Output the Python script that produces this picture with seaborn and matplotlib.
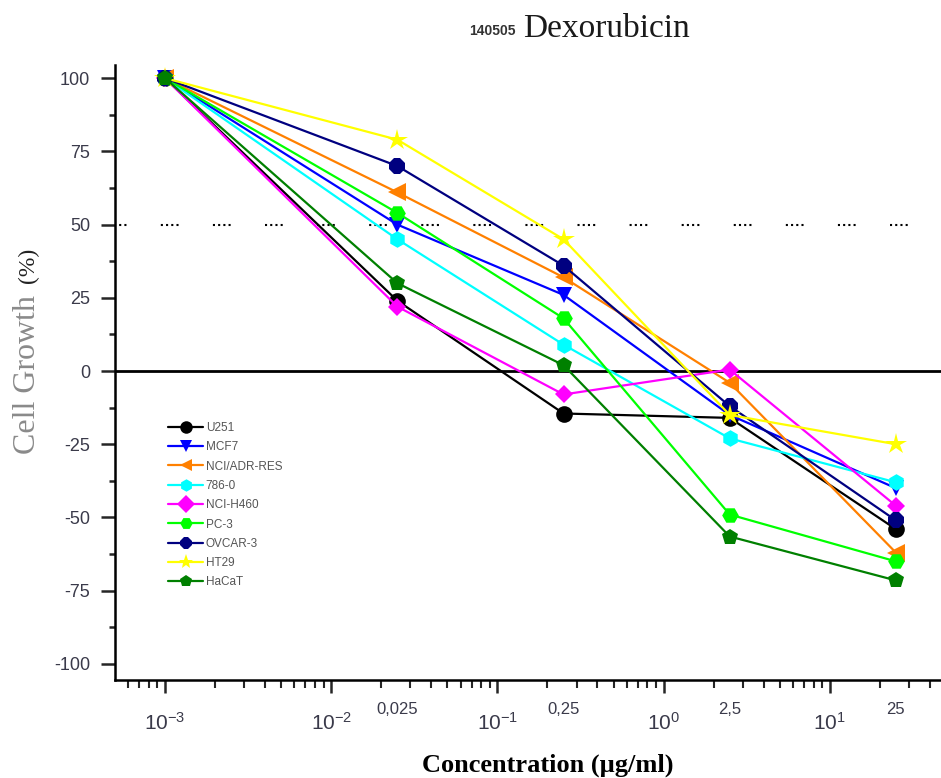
import numpy as np
import pandas as pd
import matplotlib
matplotlib.use("Agg")
import matplotlib.pyplot as plt
import seaborn as sns

# ---- data ----
concentrations = [0.001, 0.025, 0.25, 2.5, 25]
conc_labels = ["0,025", "0,25", "2,5", "25"]
conc_label_values = [0.025, 0.25, 2.5, 25]
cell_lines = ["U251", "MCF7", "NCI/ADR-RES", "786-0", "NCI-H460",
              "PC-3", "OVCAR-3", "HT29", "HaCaT"]
u251 = [100, 24, -14.5, -16, -54]
mcf7 = [100, 50, 26, -15, -40]
nci_adr = [100, 61, 32, -4, -62]
c786 = [100, 45, 9, -23, -38]
nci_h460 = [100, 22, -8, 0.5, -46]
pc3 = [100, 54, 18, -49, -65]
ovcar3 = [100, 70, 36, -12, -51]
ht29 = [100, 79, 45, -15, -25]
hacat = [100, 30, 2, -56.5, -71.5]
series = [u251, mcf7, nci_adr, c786, nci_h460, pc3, ovcar3, ht29, hacat]
y_ticks = [100, 75, 50, 25, 0, -25, -50, -75, -100]

colors = ["#000000", "#0000ff", "#ff8000", "#00ffff", "#ff00ff",
          "#00ff00", "#000080", "#ffff00", "#008000"]
markers = ["o", "v", "<", "h", "D", "H", "8", "*", "p"]

rows = []
for name, vals in zip(cell_lines, series):
    for c, v in zip(concentrations, vals):
        rows.append({"conc": c, "growth": v, "line": name})
df = pd.DataFrame(rows)

sns.set_theme(style="ticks")
plt.rcParams["font.family"] = ["Liberation Sans", "DejaVu Sans"]
plt.rcParams["mathtext.default"] = "regular"
plt.rcParams["axes.unicode_minus"] = False

fig = plt.figure(figsize=(9.41, 7.78), dpi=100)
ax = fig.add_axes([115 / 941, (778 - 680) / 778, 1 - 115 / 941, (680 - 65) / 778])

# reference lines
ax.axhline(0, color="black", lw=2.0, zorder=1)
ax.axhline(50, color="black", lw=1.5,
           linestyle=(3, (1, 1.5, 1, 1.5, 1, 1.5, 1, 16.5)), zorder=1)

palette = dict(zip(cell_lines, colors))
mk = dict(zip(cell_lines, markers))
sns.lineplot(data=df, x="conc", y="growth", hue="line", style="line",
             hue_order=cell_lines, style_order=cell_lines,
             palette=palette, markers=mk, dashes=False, lw=1.6,
             markersize=12, markeredgewidth=0, ax=ax, zorder=3)
for line in ax.get_lines()[2:]:
    m = line.get_marker()
    if m == "*":
        line.set_markersize(16)
    elif m == "D":
        line.set_markersize(9.5)
    elif m == "<":
        line.set_markersize(13)

ax.set_xscale("log")
ax.set_xlim(10 ** -3.301, 46.7)
ax.set_ylim(-105.5, 104.5)
ax.set_yticks(y_ticks)
ax.set_yticks(np.arange(-100, 101, 12.5), minor=True)
ax.set_xticks([1e-3, 1e-2, 1e-1, 1, 10])
ax.set_xticklabels(["$10^{-3}$", "$10^{-2}$", "$10^{-1}$", "$10^{0}$", "$10^{1}$"])

for s in ["top", "right"]:
    ax.spines[s].set_visible(False)
for s in ["left", "bottom"]:
    ax.spines[s].set_linewidth(1.8)
    ax.spines[s].set_color("black")

ax.tick_params(axis="y", which="major", length=10, width=1.8, labelsize=13,
               labelcolor="#3a3a4a", pad=8)
ax.tick_params(axis="y", which="minor", length=4, width=1.8)
ax.tick_params(axis="x", which="major", length=9, width=1.8, labelsize=15,
               labelcolor="#3a3a4a", pad=14)
ax.tick_params(axis="x", which="minor", length=6, width=1.5)

# concentration labels at data positions
for v, lab in zip(conc_label_values, conc_labels):
    ax.text(v, -0.035, lab, transform=ax.get_xaxis_transform(),
            ha="center", va="top", fontsize=12, color="#3a3a4a")

ax.set_xlabel("")
ax.set_ylabel("")

# legend
handles, labels = ax.get_legend_handles_labels()
for h in handles:
    h.set_markersize(9 if h.get_marker() != "*" else 11)
ax.legend(handles, labels, loc="upper left",
          bbox_to_anchor=(162 / 941, 1 - 416 / 778),
          bbox_transform=fig.transFigure, frameon=False, fontsize=8.5,
          handlelength=3.0, handletextpad=0.2, labelspacing=0.62,
          borderpad=0, labelcolor="#555555")

# titles and axis labels
fig.text(516 / 941, 1 - 31 / 778, "140505", ha="right", va="center",
         fontsize=10, fontweight="bold", color="#333333")
fig.text(523 / 941, 1 - 29 / 778, "Dexorubicin", ha="left", va="center",
         fontsize=24, family=["Liberation Serif", "DejaVu Serif"], color="#1a1a1a")
fig.text(548 / 941, 1 - 765 / 778, "Concentration (\u00b5g/ml)", ha="center",
         va="center", fontsize=19, fontweight="bold",
         family=["Liberation Serif", "DejaVu Serif"], color="black")
fig.text(28 / 941, 1 - 375 / 778, "Cell Growth", rotation=90, ha="center",
         va="center", fontsize=23, family=["Liberation Serif", "DejaVu Serif"],
         color="#8a8a8a")
fig.text(28 / 941, 1 - 265 / 778, "(%)", rotation=90, ha="center",
         va="center", fontsize=17, family=["Liberation Serif", "DejaVu Serif"],
         color="#222222")

fig.savefig("out.png", dpi=100)
